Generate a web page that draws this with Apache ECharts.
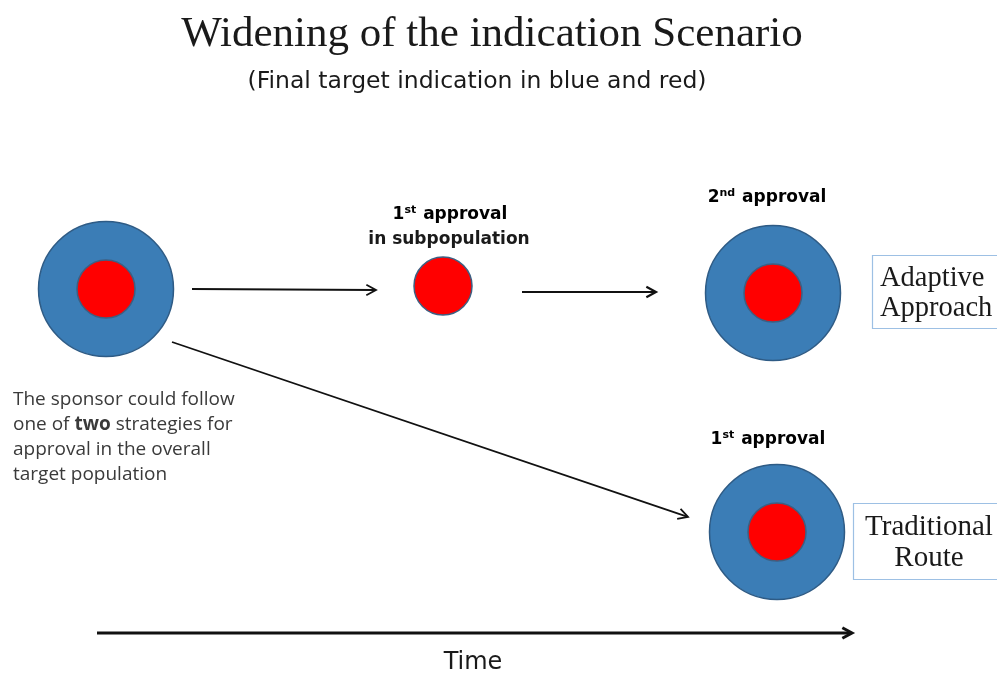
<!DOCTYPE html>
<html>
<head>
<meta charset="utf-8">
<script src="https://cdn.jsdelivr.net/npm/echarts@6/dist/echarts.min.js"></script>
<style>html,body{margin:0;padding:0;background:#fff;}#c{width:997px;height:673px;}</style>
</head>
<body>
<div id="c"></div>
<script>
// ---- diagram data (diagram units = page pixels) ----
const nodeNames   = ['Start', 'Subpopulation', 'Adaptive', 'Traditional'];
const nodeX       = [106, 443, 773, 777];
const nodeY       = [289, 286, 293, 532];
const hasOverall  = [true, false, true, true];   // blue: overall target population
const hasSubpop   = [true, true, true, true];    // red: subpopulation

const arrowX1 = [192, 522, 172, 97];
const arrowY1 = [289, 292, 342, 633];
const arrowX2 = [376, 656, 688, 852];
const arrowY2 = [290, 292, 517, 633];
const arrowWidth = [1.8, 2.2, 1.8, 3];

const titleText = 'Widening of the indication Scenario';
const subtitleText = '(Final target indication in blue and red)';

const chart = echarts.init(document.getElementById('c'));

const outerData = [], innerData = [];
nodeNames.forEach((n, i) => {
  if (hasOverall[i]) outerData.push([nodeX[i], nodeY[i], n]);
  if (hasSubpop[i]) innerData.push([nodeX[i], nodeY[i], n]);
});
const arrowData = arrowX1.map((x, i) => [x, arrowY1[i], arrowX2[i], arrowY2[i], arrowWidth[i]]);

const supRich = {
  b: {fontFamily: 'DejaVu Sans', fontWeight: 'bold', fontSize: 17, color: '#1a1a1a', lineHeight: 25},
  s: {fontFamily: 'DejaVu Sans', fontWeight: 'bold', fontSize: 11, color: '#1a1a1a', lineHeight: 25, verticalAlign: 'top', padding: [2, 1, 0, 0]}
};

chart.setOption({
  animation: false,
  backgroundColor: '#ffffff',
  title: [
    {text: titleText, left: 487, top: 8, textAlign: 'center',
     textStyle: {fontFamily: 'Liberation Serif', fontWeight: 'normal', fontSize: 43, color: '#1a1a1a'}},
    {text: subtitleText, left: 472, top: 65, textAlign: 'center',
     textStyle: {fontFamily: 'DejaVu Sans', fontWeight: 'normal', fontSize: 23.5, color: '#1a1a1a'}}
  ],
  grid: {left: 0, right: 0, top: 0, bottom: 0},
  xAxis: {type: 'value', min: 0, max: 997, show: false},
  yAxis: {type: 'value', min: 0, max: 673, inverse: true, show: false},
  series: [
    {
      type: 'scatter', data: outerData, symbol: 'circle', symbolSize: 135, z: 2,
      itemStyle: {color: '#3b7db6', borderColor: '#2e5b85', borderWidth: 1.5, opacity: 1}
    },
    {
      type: 'scatter', data: innerData, symbol: 'circle', symbolSize: 58, z: 3,
      itemStyle: {color: '#ff0000', borderColor: '#3d5f82', borderWidth: 1.5, opacity: 1}
    },
    {
      type: 'custom', data: arrowData, z: 4,
      renderItem: function (params, api) {
        const p1 = api.coord([api.value(0), api.value(1)]);
        const p2 = api.coord([api.value(2), api.value(3)]);
        const w = api.value(4);
        const ang = Math.atan2(p2[1] - p1[1], p2[0] - p1[0]);
        const L = 11, sp = 0.5;
        const h1 = [p2[0] - L * Math.cos(ang - sp), p2[1] - L * Math.sin(ang - sp)];
        const h2 = [p2[0] - L * Math.cos(ang + sp), p2[1] - L * Math.sin(ang + sp)];
        return {
          type: 'group',
          children: [
            {type: 'line', shape: {x1: p1[0], y1: p1[1], x2: p2[0] - 1 * Math.cos(ang), y2: p2[1] - 1 * Math.sin(ang)},
             style: {stroke: '#111', lineWidth: w}},
            {type: 'polyline', shape: {points: [h1, p2, h2]},
             style: {stroke: '#111', lineWidth: w, fill: null, lineJoin: 'miter'}}
          ]
        };
      }
    }
  ],
  graphic: [
    {type: 'text', x: 450, y: 215, style: {text: '{b|1}{s|st}{b| approval}', rich: supRich, align: 'center', verticalAlign: 'middle'}},
    {type: 'text', x: 449, y: 240, style: {text: 'in subpopulation', fontFamily: 'DejaVu Sans', fontWeight: 'bold', fontSize: 17, fill: '#1a1a1a', align: 'center', verticalAlign: 'middle'}},
    {type: 'text', x: 767, y: 198, style: {text: '{b|2}{s|nd}{b| approval}', rich: supRich, align: 'center', verticalAlign: 'middle'}},
    {type: 'text', x: 768, y: 440, style: {text: '{b|1}{s|st}{b| approval}', rich: supRich, align: 'center', verticalAlign: 'middle'}},
    {type: 'text', x: 13, y: 387, style: {
      text: 'The sponsor could follow\none of {t|two} strategies for\napproval in the overall\ntarget population',
      fontFamily: 'Open Sans', fontSize: 19, fill: '#3a3a3a', lineHeight: 25,
      rich: {t: {fontFamily: 'Open Sans', fontWeight: 'bold', fontSize: 19, color: '#1a1a1a', lineHeight: 25}}
    }},
    {type: 'rect', shape: {x: 872.5, y: 255.5, width: 140, height: 73}, style: {fill: '#fff', stroke: '#9dc0e4', lineWidth: 1.2}},
    {type: 'text', x: 880, y: 279, style: {text: 'Adaptive', fontFamily: 'Liberation Serif', fontSize: 28.5, fill: '#1a1a1a', align: 'left', verticalAlign: 'middle'}},
    {type: 'text', x: 880, y: 309, style: {text: 'Approach', fontFamily: 'Liberation Serif', fontSize: 28.5, fill: '#1a1a1a', align: 'left', verticalAlign: 'middle'}},
    {type: 'rect', shape: {x: 853.5, y: 503.5, width: 160, height: 76}, style: {fill: '#fff', stroke: '#9dc0e4', lineWidth: 1.2}},
    {type: 'text', x: 929, y: 527, style: {text: 'Traditional', fontFamily: 'Liberation Serif', fontSize: 29, fill: '#1a1a1a', align: 'center', verticalAlign: 'middle'}},
    {type: 'text', x: 929, y: 558, style: {text: 'Route', fontFamily: 'Liberation Serif', fontSize: 29, fill: '#1a1a1a', align: 'center', verticalAlign: 'middle'}},
    {type: 'text', x: 473, y: 663, style: {text: 'Time', fontFamily: 'DejaVu Sans', fontSize: 24, fill: '#1a1a1a', align: 'center', verticalAlign: 'middle'}}
  ]
});
</script>
</body>
</html>
